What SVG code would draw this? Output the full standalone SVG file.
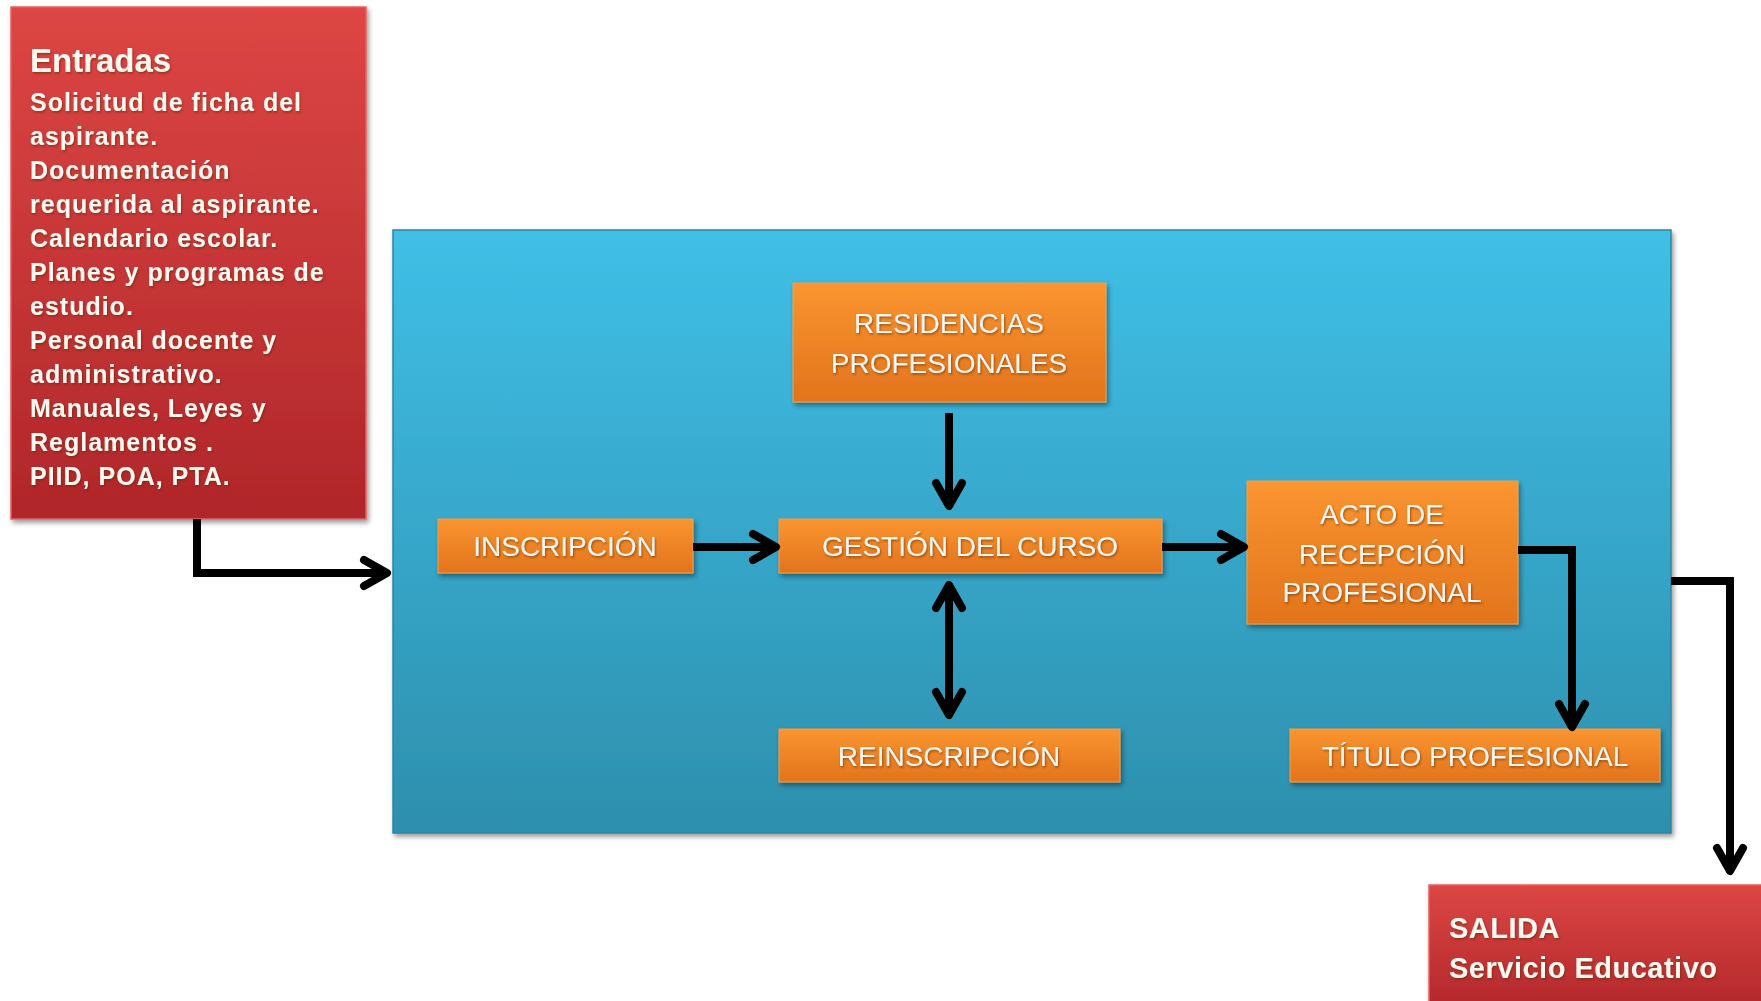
<svg xmlns="http://www.w3.org/2000/svg" width="1761" height="1001" viewBox="0 0 1761 1001">
<defs>
<linearGradient id="gRed" x1="0" y1="0" x2="0" y2="1">
<stop offset="0" stop-color="#dd4644"/>
<stop offset="1" stop-color="#b0262a"/>
</linearGradient>
<linearGradient id="gBlue" x1="0" y1="0" x2="0" y2="1">
<stop offset="0" stop-color="#40bfe7"/>
<stop offset="1" stop-color="#2d8fad"/>
</linearGradient>
<linearGradient id="gOrange" x1="0" y1="0" x2="0" y2="1">
<stop offset="0" stop-color="#fa9530"/>
<stop offset="1" stop-color="#e2731c"/>
</linearGradient>
<filter id="sh" x="-10%" y="-10%" width="120%" height="130%">
<feDropShadow dx="2" dy="3" stdDeviation="2.5" flood-color="#000" flood-opacity="0.4"/>
</filter>
<filter id="tsh" x="-5%" y="-20%" width="110%" height="150%">
<feDropShadow dx="1" dy="1.5" stdDeviation="1" flood-color="#5a2a00" flood-opacity="0.6"/>
</filter>
<marker id="ah" viewBox="0 0 34 36" refX="29" refY="18" markerWidth="34" markerHeight="36" markerUnits="userSpaceOnUse" orient="auto-start-reverse">
<path d="M6,5 L29,18 L6,31" fill="none" stroke="#000" stroke-width="8" stroke-linecap="round" stroke-linejoin="round"/>
</marker>
</defs>
<style>
.red{fill:url(#gRed);stroke:#e86060;stroke-width:1.5;filter:url(#sh)}
.blue{fill:url(#gBlue);stroke:#2b86a5;stroke-width:1.5;filter:url(#sh)}
.org{fill:url(#gOrange);stroke:#f4a04a;stroke-width:1;filter:url(#sh)}
.t{font-family:"Liberation Sans",Arial,sans-serif;fill:#fff7f0;filter:url(#tsh)}
.ot{font-size:28px;text-anchor:middle}
.wt{font-weight:bold}
.con{fill:none;stroke:#000;stroke-width:8;stroke-linejoin:miter}
</style>
<rect width="1761" height="1001" fill="#ffffff"/>

<g id="entradas">
<rect class="red" x="11" y="7" width="355" height="512"/>
<text class="t wt" x="30" y="72" font-size="33">Entradas</text>
<g class="t wt" font-size="25" letter-spacing="1">
<text x="30" y="111">Solicitud de ficha del</text>
<text x="30" y="145">aspirante.</text>
<text x="30" y="179">Documentación</text>
<text x="30" y="213">requerida al aspirante.</text>
<text x="30" y="247">Calendario escolar.</text>
<text x="30" y="281">Planes y programas de</text>
<text x="30" y="315">estudio.</text>
<text x="30" y="349">Personal docente y</text>
<text x="30" y="383">administrativo.</text>
<text x="30" y="417">Manuales, Leyes y</text>
<text x="30" y="451">Reglamentos .</text>
<text x="30" y="485">PIID, POA, PTA.</text>
</g>
</g>

<g id="proceso">
<rect class="blue" x="393" y="230" width="1278" height="603"/>
</g>

<g id="residencias">
<rect class="org" x="793" y="283" width="313" height="119"/>
<text class="t ot" x="949" y="333">RESIDENCIAS</text>
<text class="t ot" x="949" y="373">PROFESIONALES</text>
</g>

<g id="inscripcion">
<rect class="org" x="438" y="519" width="255" height="54"/>
<text class="t ot" x="565" y="556">INSCRIPCIÓN</text>
</g>

<g id="gestion">
<rect class="org" x="779" y="519" width="383" height="54"/>
<text class="t ot" x="970" y="556">GESTIÓN DEL CURSO</text>
</g>

<g id="acto">
<rect class="org" x="1247" y="481" width="271" height="143"/>
<text class="t ot" x="1382" y="524">ACTO DE</text>
<text class="t ot" x="1382" y="564">RECEPCIÓN</text>
<text class="t ot" x="1382" y="602">PROFESIONAL</text>
</g>

<g id="reinscripcion">
<rect class="org" x="779" y="729" width="341" height="53"/>
<text class="t ot" x="949" y="766">REINSCRIPCIÓN</text>
</g>

<g id="titulo">
<rect class="org" x="1290" y="729" width="370" height="53"/>
<text class="t ot" x="1475" y="766" font-size="29">TÍTULO PROFESIONAL</text>
</g>

<g id="salida">
<rect class="red" x="1429" y="885" width="345" height="130"/>
<text class="t wt" x="1449" y="938" font-size="29" letter-spacing="0.5">SALIDA</text>
<text class="t wt" x="1449" y="978" font-size="29" letter-spacing="0.5">Servicio Educativo</text>
</g>

<g id="connectors">
<path class="con" d="M197,519 V573 H387" marker-end="url(#ah)"/>
<path class="con" d="M693,547 H776" marker-end="url(#ah)"/>
<path class="con" d="M949,413 V506" marker-end="url(#ah)"/>
<path class="con" d="M949,585 V715" marker-start="url(#ah)" marker-end="url(#ah)"/>
<path class="con" d="M1162,547 H1244" marker-end="url(#ah)"/>
<path class="con" d="M1518,550 H1572 V727" marker-end="url(#ah)"/>
<path class="con" d="M1671,581 H1730 V871" marker-end="url(#ah)"/>
</g>
</svg>
